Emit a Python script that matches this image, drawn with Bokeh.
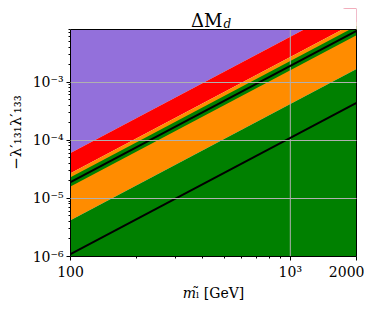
from bokeh.plotting import figure
from bokeh.models import (FixedTicker, CustomJSTickFormatter, Range1d, Label,
                          ColumnDataSource, LogAxis, Span)
from bokeh.embed import file_html
from bokeh.resources import INLINE
import math

# data (values at m = 100 and m = 2000 GeV)
m_edges = [100, 2000]
red_top = [6.0e-5, 2.4e-2]
orange_top = [2.7e-5, 1.08e-2]
band_top = [2.3e-5, 9.2e-3]
band_bot = [1.6e-5, 6.4e-3]
orange_bot = [4.2e-6, 1.68e-3]
line_upper = [1.9e-5, 7.6e-3]
line_lower = [1.1e-6, 4.4e-4]

x_lo, x_hi = 100, 2000
y_lo, y_hi = 1e-6, 8e-3

x_major = [100, 1000, 2000]
x_minor = [200, 300, 400, 500, 600, 700, 800, 900]
x_labels = {100: "100", 1000: "10³", 2000: "2000"}
x_grid = [1000]
y_major = [1e-6, 1e-5, 1e-4, 1e-3]
y_minor = [k * 10.0 ** e for e in range(-6, -2) for k in range(2, 10) if k * 10.0 ** e <= y_hi]

# layout: data area 286 x 227 px, with a 21 px strip above it (inside the frame) for the title
data_h, strip_h = 227, 21
decades = math.log10(y_hi / y_lo)
y_frame_top = y_hi * 10 ** (decades * strip_h / data_h)

n = len(m_edges)
src = ColumnDataSource(dict(m=m_edges, red_top=red_top, orange_top=orange_top,
                            band_top=band_top, band_bot=band_bot, orange_bot=orange_bot,
                            floor=[y_lo / 10] * n, top=[y_hi] * n, mask_top=[y_frame_top * 100] * n,
                            line_upper=line_upper, line_lower=line_lower))

p = figure(frame_width=286, frame_height=data_h + strip_h, x_axis_type="log", y_axis_type="log",
           x_range=Range1d(x_lo, x_hi), y_range=Range1d(y_lo, y_frame_top),
           output_backend="svg", toolbar_location=None,
           min_border_left=70, min_border_right=8, min_border_top=8, min_border_bottom=47)
p.outline_line_color = None
p.background_fill_color = "white"

serif = "DejaVu Serif"

p.varea(x="m", y1="red_top", y2="top", source=src, fill_color="#9370DB")
p.varea(x="m", y1="orange_top", y2="red_top", source=src, fill_color="#FF0000")
p.varea(x="m", y1="orange_bot", y2="orange_top", source=src, fill_color="#FF8C00")
p.varea(x="m", y1="band_bot", y2="band_top", source=src, fill_color="#008000")
p.varea(x="m", y1="floor", y2="orange_bot", source=src, fill_color="#008000")
# blank strip above the data area
p.varea(x="m", y1="top", y2="mask_top", source=src, fill_color="white")

# grid lines
p.xgrid.visible = False
p.segment(x0=x_grid, y0=[y_lo] * len(x_grid), x1=x_grid, y1=[y_hi] * len(x_grid),
          line_color="#b0b0b0", line_width=1)
p.ygrid.ticker = FixedTicker(ticks=y_major)
p.ygrid.grid_line_color = "#b0b0b0"
p.ygrid.level = "overlay"

p.line(x="m", y="line_upper", source=src, line_color="black", line_width=2)
p.line(x="m", y="line_lower", source=src, line_color="black", line_width=2)

p.xaxis.ticker = FixedTicker(ticks=x_major, minor_ticks=x_minor)
p.xaxis.major_label_overrides = x_labels
p.yaxis.ticker = FixedTicker(ticks=y_major, minor_ticks=y_minor)
p.yaxis.bounds = (y_lo, y_hi)
p.yaxis.formatter = CustomJSTickFormatter(code="""
const e = Math.round(Math.log10(tick));
const sup = {'-':'\u207b','0':'\u2070','1':'\u00b9','2':'\u00b2','3':'\u00b3','4':'\u2074','5':'\u2075','6':'\u2076','7':'\u2077','8':'\u2078','9':'\u2079'};
return '10' + String(e).split('').map(c => sup[c]).join('');
""")

for ax in (p.xaxis, p.yaxis):
    ax.major_label_text_font = serif
    ax.major_label_text_font_size = "14px"
    ax.major_label_text_color = "black"
    ax.axis_line_color = "black"
    ax.major_tick_line_color = "black"
    ax.minor_tick_line_color = "black"
    ax.major_tick_out = 4
    ax.major_tick_in = 0
    ax.minor_tick_out = 2
    ax.minor_tick_in = 0
    ax.major_label_standoff = 3
    ax.axis_label_text_font = serif
    ax.axis_label_text_font_style = "normal"
    ax.axis_label_text_font_size = "14px"
    ax.axis_label_text_color = "black"

p.xaxis.axis_label = "𝑚ₗ̃ [GeV]"
p.xaxis.axis_label_standoff = 2
p.yaxis.axis_label = "−λ′₁₃₁λ′₁₃₃"
p.yaxis.axis_label_text_font_size = "15px"
p.yaxis.axis_label_standoff = 5

# right and top borders of the data area
right = LogAxis(ticker=FixedTicker(ticks=[]), bounds=(y_lo, y_hi), axis_line_color="black",
                major_tick_line_color=None, minor_tick_line_color=None,
                major_label_text_font_size="0px")
p.add_layout(right, "right")
p.add_layout(Span(location=y_hi, dimension="width", line_color="black", line_width=1))

# title (screen units measured from the frame's bottom-left corner)
p.add_layout(Label(x=152, y=236, x_units="screen", y_units="screen", text="ΔM",
                   text_font=serif, text_font_size="18px", text_align="right",
                   text_baseline="alphabetic", text_color="black"))
p.add_layout(Label(x=153, y=233, x_units="screen", y_units="screen", text="d",
                   text_font=serif, text_font_size="12px", text_font_style="italic",
                   text_align="left", text_baseline="alphabetic", text_color="black"))

open("out.html", "w").write(file_html(p, INLINE))
